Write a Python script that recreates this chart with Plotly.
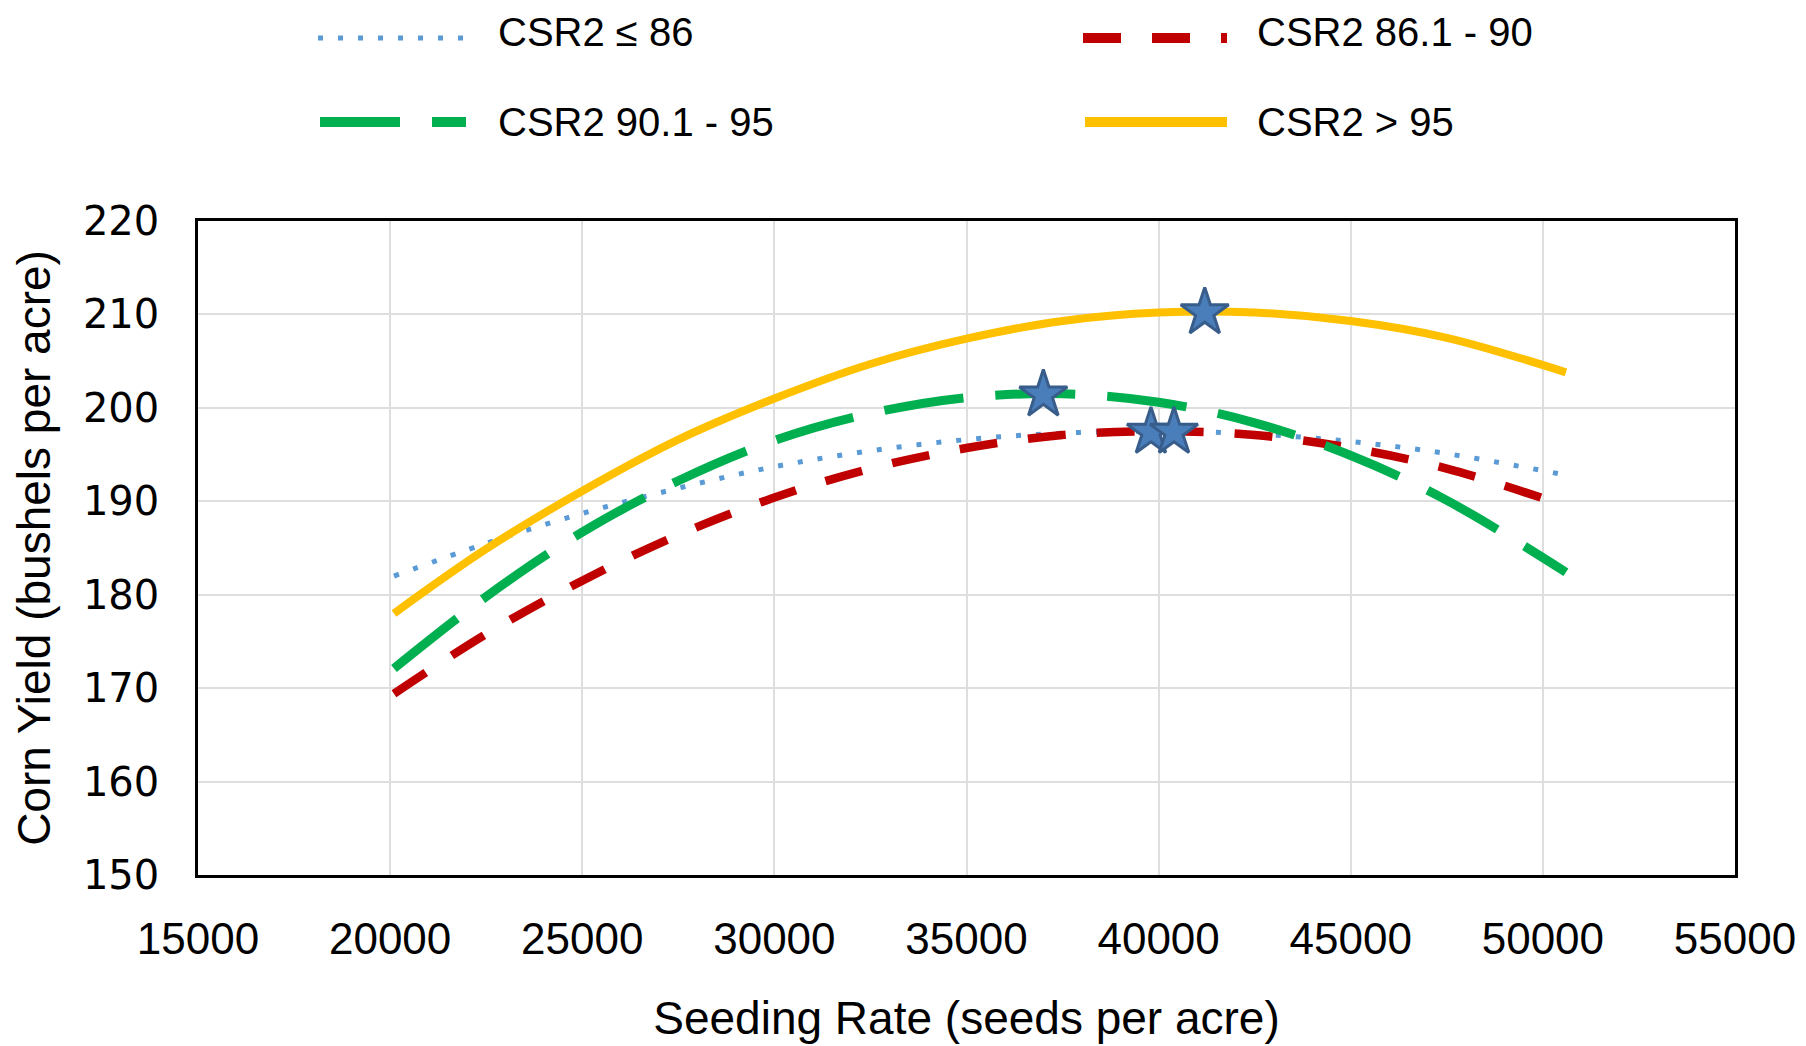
import plotly.graph_objects as go

# ---------------- data ----------------
seeding_rate = [20100, 22500, 25000, 27500, 30000, 32500, 35000, 37500, 40000, 42500, 45000, 47500, 50600]
yield_le86 = [182.0, 185.5, 188.7, 191.4, 193.7, 195.4, 196.6, 197.3, 197.5, 197.2, 196.4, 195.1, 192.8]
yield_86_90 = [169.4, 175.8, 181.5, 186.4, 190.4, 193.5, 195.7, 197.1, 197.5, 197.1, 195.7, 193.5, 189.5]
yield_90_95 = [172.1, 179.8, 186.7, 192.2, 196.5, 199.4, 201.1, 201.5, 200.6, 198.4, 194.9, 190.1, 182.4]
yield_gt95 = [178.0, 184.9, 191.1, 196.6, 201.0, 204.7, 207.4, 209.3, 210.2, 210.2, 209.3, 207.5, 203.8]

series_names = ["CSR2 \u2264 86", "CSR2 86.1 - 90", "CSR2 90.1 - 95", "CSR2 > 95"]

# economic optimum points (stars)
optimum_rate = [39800, 40400, 37000, 41200]
optimum_yield = [197.4, 197.4, 201.4, 210.2]

x_ticks = [15000, 20000, 25000, 30000, 35000, 40000, 45000, 50000, 55000]
y_ticks = [150, 160, 170, 180, 190, 200, 210, 220]

# ---------------- styles ----------------
colors = ["#5B9BD5", "#C00000", "#00B050", "#FFC000"]
dashes = ["5px,15px", "38px,31px", "80px,32px", "solid"]
widths = [5, 8.5, 9, 8]
legend_widths = [5, 10, 10, 10]

W, H = 1806, 1046
L, R, T, B = 198, 1735, 221, 875
PW, PH = R - L, B - T


def px_x(px):
    return (px - L) / PW


def px_y(py):
    return (B - py) / PH


fig = go.Figure()
series = [yield_le86, yield_86_90, yield_90_95, yield_gt95]
for name, ys, c, d, w in zip(series_names, series, colors, dashes, widths):
    fig.add_trace(go.Scatter(
        x=seeding_rate, y=ys, mode="lines", name=name,
        line=dict(color=c, dash=d, width=w, shape="spline", smoothing=1.0),
        showlegend=False, hoverinfo="x+y+name",
    ))

fig.add_trace(go.Scatter(
    x=optimum_rate, y=optimum_yield, mode="markers", name="Optimum",
    marker=dict(symbol="star", size=36, color="#4A7EBB",
                line=dict(color="#385D8A", width=3)),
    showlegend=False,
))

# ---------------- manual legend (long line samples) ----------------
legend_pos = [  # (line x0, line x1, line y, text x, text y) in pixels
    (318, 466, 38, 496, 32),
    (1083, 1227, 38, 1255, 32),
    (320, 466, 122, 496, 122),
    (1085, 1227, 122, 1255, 122),
]
shapes = []
annotations = []
for (x0, x1, ly, tx, ty), name, c, d, w in zip(legend_pos, series_names, colors, dashes, legend_widths):
    shapes.append(dict(type="line", xref="paper", yref="paper",
                       x0=px_x(x0), x1=px_x(x1), y0=px_y(ly), y1=px_y(ly),
                       line=dict(color=c, width=w, dash=d)))
    annotations.append(dict(text=name, xref="paper", yref="paper",
                            x=px_x(tx), y=px_y(ty), xanchor="left", yanchor="middle",
                            showarrow=False,
                            font=dict(family="Liberation Sans, Arial, sans-serif", size=40, color="#000000")))

fig.update_layout(
    width=W, height=H, autosize=False,
    margin=dict(l=L, r=W - R, t=T, b=H - B, pad=0),
    paper_bgcolor="white", plot_bgcolor="white",
    shapes=shapes, annotations=annotations,
    showlegend=False,
)

fig.update_xaxes(
    range=[15000, 55000], tickvals=x_ticks, ticktext=[str(v) for v in x_ticks],
    showgrid=True, gridcolor="#DEDEDE", gridwidth=1.5,
    showline=True, linecolor="black", linewidth=2.5, mirror=True,
    ticks="outside", ticklen=23, tickcolor="rgba(0,0,0,0)",
    tickfont=dict(family="Liberation Sans, Arial, sans-serif", size=44, color="#000000"),
    title=dict(text="Seeding Rate (seeds per acre)", standoff=41,
               font=dict(family="Liberation Sans, Arial, sans-serif", size=46, color="#000000")),
    zeroline=False, automargin=False,
)
fig.update_yaxes(
    range=[150, 220], tickvals=y_ticks,
    showgrid=True, gridcolor="#DEDEDE", gridwidth=1.5,
    showline=True, linecolor="black", linewidth=2.5, mirror=True,
    ticks="outside", ticklen=28, tickcolor="rgba(0,0,0,0)",
    tickfont=dict(family="DejaVu Sans, Verdana, sans-serif", size=40, color="#000000"),
    title=dict(text="Corn Yield (bushels per acre)", standoff=18,
               font=dict(family="Liberation Sans, Arial, sans-serif", size=46, color="#000000")),
    zeroline=False, automargin=False,
)

fig.write_html("out.html")
